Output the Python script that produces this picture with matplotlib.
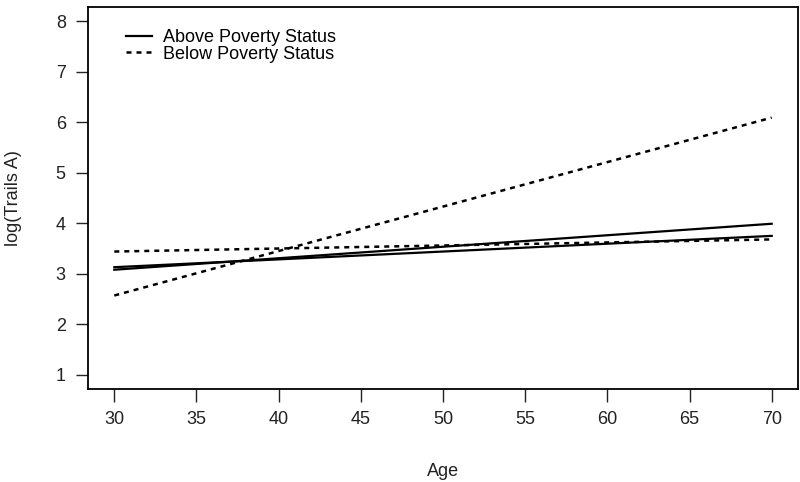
import matplotlib
matplotlib.use("Agg")
import matplotlib.pyplot as plt

plt.rcParams['font.family'] = ['Liberation Sans', 'DejaVu Sans']

# fitted lines, end points at age 30 and 70
age = [30, 70]
above_1 = [3.08, 3.99]
above_2 = [3.13, 3.75]
below_1 = [2.57, 6.09]
below_2 = [3.44, 3.68]

xticks = [30, 35, 40, 45, 50, 55, 60, 65, 70]
yticks = [1, 2, 3, 4, 5, 6, 7, 8]

fig = plt.figure(figsize=(8, 4.82), dpi=100)
ax = fig.add_axes([0.11, 0.193, 0.8875, 0.7925])

ax.plot(age, above_1, color='black', lw=1.6, label='Above Poverty Status')
ax.plot(age, above_2, color='black', lw=1.6)
ax.plot(age, below_1, color='black', lw=1.8, dashes=(2, 2), label='Below Poverty Status')
ax.plot(age, below_2, color='black', lw=1.8, dashes=(2, 2))

ax.set_xlim(28.4, 71.6)
ax.set_ylim(0.72, 8.28)
ax.set_xticks(xticks)
ax.set_yticks(yticks)
ax.tick_params(direction='out', length=9, width=1, labelsize=13, colors='#222222', pad=7)
for s in ax.spines.values():
    s.set_linewidth(1.3)

ax.set_xlabel('Age', fontsize=13, color='#222222', labelpad=25)
ax.set_ylabel('log(Trails A)', fontsize=13, color='#222222', labelpad=24)

ax.legend(loc='upper left', bbox_to_anchor=(0.043, 0.96), frameon=False,
          fontsize=13, handlelength=1.45, handletextpad=0.6, labelspacing=-0.05,
          borderaxespad=0)

fig.savefig('out.png', dpi=100)
